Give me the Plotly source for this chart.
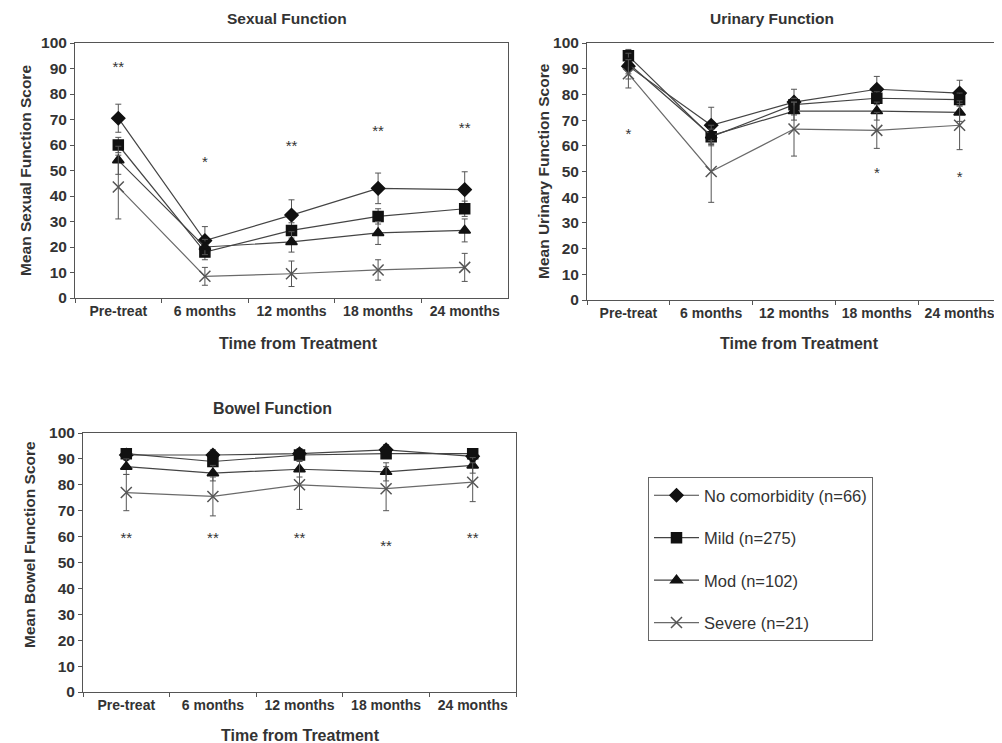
import plotly.graph_objects as go

# figure is placed by the page at an 8px body margin; reference pixel coords are mapped accordingly
W, H = 994, 735
OFF = 8

categories = ["Pre-treat", "6 months", "12 months", "18 months", "24 months"]
groups = ["No comorbidity (n=66)", "Mild (n=275)", "Mod (n=102)", "Severe (n=21)"]

# Sexual function
sex_none = [70.5, 22.5, 32.5, 43.0, 42.5]
sex_mild = [60.0, 18.0, 26.5, 32.0, 35.0]
sex_mod = [54.0, 20.0, 22.0, 25.5, 26.5]
sex_sev = [43.5, 8.5, 9.5, 11.0, 12.0]
sex_none_err = [5.5, 5.5, 6.0, 6.0, 7.0]
sex_mild_err = [3.0, 3.0, 3.0, 3.0, 3.0]
sex_mod_err = [5.5, 3.0, 4.0, 4.5, 4.5]
sex_sev_err = [12.5, 3.5, 5.0, 4.0, 5.5]
sex_sig = ["**", "*", "**", "**", "**"]
sex_sig_y = [90, 53, 59, 65, 66]

# Urinary function
uri_none = [91.0, 68.0, 77.0, 82.0, 80.5]
uri_mild = [95.0, 63.5, 76.0, 78.5, 78.0]
uri_mod = [92.0, 64.0, 73.5, 73.5, 73.0]
uri_sev = [88.0, 50.0, 66.5, 66.0, 68.0]
uri_none_err = [5.0, 7.0, 5.0, 5.0, 5.0]
uri_mild_err = [2.5, 3.0, 2.5, 2.5, 2.5]
uri_mod_err = [4.0, 4.0, 3.5, 3.5, 3.5]
uri_sev_err = [5.5, 12.0, 10.5, 7.0, 9.5]
uri_sig = ["*", "", "", "*", "*"]
uri_sig_y = [64, 0, 0, 49, 47.5]

# Bowel function
bow_none = [91.5, 91.5, 92.0, 93.5, 91.0]
bow_mild = [92.0, 89.0, 91.5, 92.0, 92.0]
bow_mod = [87.0, 84.5, 86.0, 85.0, 87.5]
bow_sev = [77.0, 75.5, 80.0, 78.5, 81.0]
bow_none_err = [2.0, 2.0, 2.0, 2.0, 2.0]
bow_mild_err = [1.5, 1.5, 1.5, 1.5, 1.5]
bow_mod_err = [3.0, 3.0, 3.0, 3.5, 3.0]
bow_sev_err = [7.0, 7.5, 9.5, 8.5, 7.5]
bow_sig = ["**", "**", "**", "**", "**"]
bow_sig_y = [59, 59, 59, 56, 59]

symbols = ["diamond", "square", "triangle-up", "x-thin-open"]
msizes = [10, 10, 10, 11]
line_colors = ["#444444", "#444444", "#444444", "#6a6a6a"]
marker_colors = ["#111111", "#111111", "#111111", "#555555"]

FONT = "Liberation Sans"
TXT = "#333333"


def px(x):
    return (x - OFF) / W


def py(y):
    return 1 - (y - OFF) / H


fig = go.Figure()


def add_panel(series, errs, sig, sig_y, xa, ya, show_legend):
    for i, (vals, err) in enumerate(zip(series, errs)):
        fig.add_trace(go.Scatter(
            x=categories, y=vals, xaxis=xa, yaxis=ya,
            mode="lines+markers", name=groups[i],
            legendgroup=groups[i], showlegend=show_legend,
            line=dict(color=line_colors[i], width=1.2),
            marker=dict(symbol=symbols[i], size=msizes[i], color=marker_colors[i],
                        line=dict(color=marker_colors[i], width=1.5)),
            error_y=dict(type="data", array=err, symmetric=True,
                         color="#555555", thickness=1, width=3),
        ))
    fig.add_trace(go.Scatter(
        x=categories, y=sig_y, xaxis=xa, yaxis=ya, mode="text", text=sig,
        textposition="middle center", showlegend=False, hoverinfo="skip",
        textfont=dict(family=FONT, size=15, color=TXT),
    ))


add_panel([sex_none, sex_mild, sex_mod, sex_sev],
          [sex_none_err, sex_mild_err, sex_mod_err, sex_sev_err],
          sex_sig, sex_sig_y, "x", "y", True)
add_panel([uri_none, uri_mild, uri_mod, uri_sev],
          [uri_none_err, uri_mild_err, uri_mod_err, uri_sev_err],
          uri_sig, uri_sig_y, "x2", "y2", False)
add_panel([bow_none, bow_mild, bow_mod, bow_sev],
          [bow_none_err, bow_mild_err, bow_mod_err, bow_sev_err],
          bow_sig, bow_sig_y, "x3", "y3", False)


def xaxis(x0, x1):
    return dict(domain=[px(x0), px(x1)], type="category", range=[-0.5, 4.5],
                showline=True, linecolor="#555555", linewidth=1, mirror=True,
                ticks="outside", tickson="boundaries", ticklen=4, tickcolor="#555555",
                showgrid=False, zeroline=False, automargin=False, fixedrange=True,
                tickfont=dict(family=FONT, size=14, color=TXT, weight="bold"))


def yaxis(y_top, y_bot):
    return dict(domain=[py(y_bot), py(y_top)], range=[0, 100],
                tickvals=list(range(0, 101, 10)),
                showline=True, linecolor="#555555", linewidth=1, mirror=True,
                ticks="outside", ticklen=4, tickcolor="#555555",
                showgrid=False, zeroline=False, automargin=False, fixedrange=True,
                tickfont=dict(family=FONT, size=15.5, color=TXT, weight="bold"))


fig.update_layout(
    template="none",
    width=W, height=H, margin=dict(l=0, r=0, t=0, b=0, autoexpand=False),
    paper_bgcolor="white", plot_bgcolor="white",
    font=dict(family=FONT, color=TXT),
    xaxis=dict(xaxis(75, 508), anchor="y"),
    yaxis=dict(yaxis(43, 298), anchor="x"),
    xaxis2=dict(xaxis(587, 1001), anchor="y2"),
    yaxis2=dict(yaxis(43, 300), anchor="x2"),
    xaxis3=dict(xaxis(83, 516), anchor="y3"),
    yaxis3=dict(yaxis(433, 692), anchor="x3"),
    showlegend=True,
    legend=dict(x=px(648), y=py(477), xanchor="left", yanchor="top",
                bordercolor="#666666", borderwidth=1, bgcolor="white",
                font=dict(family=FONT, size=16.5, color=TXT),
                tracegroupgap=18, itemwidth=45),
)


def ann(text, x, y, size, angle=0, yanchor="middle"):
    fig.add_annotation(text=text, x=px(x), y=min(1.0, py(y)),
                       xref="paper", yref="paper", showarrow=False,
                       xanchor="center", yanchor=yanchor,
                       textangle=angle,
                       font=dict(family=FONT, size=size, color=TXT, weight="bold"))


ann("Sexual Function", 287, 8, 15.5, yanchor="top")
ann("Urinary Function", 772, 8, 15.5, yanchor="top")
ann("Bowel Function", 272, 408, 16)
ann("Time from Treatment", 298, 343, 16)
ann("Time from Treatment", 799, 343, 16)
ann("Time from Treatment", 300, 735, 16)
ann("Mean Sexual Function Score", 25, 171, 15.5, -90)
ann("Mean Urinary Function Score", 543, 171, 15.5, -90)
ann("Mean Bowel Function Score", 29, 545, 15.5, -90)

fig.write_html("out.html")
